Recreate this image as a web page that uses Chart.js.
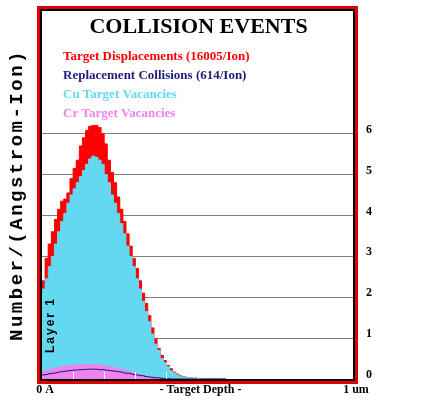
<!DOCTYPE html>
<html>
<head>
<meta charset="utf-8">
<script src="https://cdn.jsdelivr.net/npm/chart.js@4.4.0/dist/chart.umd.min.js"></script>
<style>
  html, body { margin: 0; padding: 0; background: #fff; }
  #wrap { width: 421px; height: 406px; }
</style>
</head>
<body>
<div id="wrap"><canvas id="chart" width="421" height="406"></canvas></div>
<script>
// 10 nm depth bins (bin start, nm); everything deeper than ~520 nm is empty
const depthNm = [
  0, 10, 20, 30, 40, 50, 60, 70, 80, 90,
  100, 110, 120, 130, 140, 150, 160, 170, 180, 190,
  200, 210, 220, 230, 240, 250, 260, 270, 280, 290,
  300, 310, 320, 330, 340, 350, 360, 370, 380, 390,
  400, 410, 420, 430, 440, 450, 460, 470, 480, 490,
  500, 510, 520, 530, 540, 550, 560, 570, 580, 590
];

const displacements = [
  2.40, 2.95, 3.30, 3.60, 3.90, 4.15, 4.35, 4.40, 4.55, 4.90,
  5.15, 5.35, 5.70, 5.90, 6.08, 6.18, 6.20, 6.20, 6.15, 6.00,
  5.75, 5.35, 5.05, 4.80, 4.45, 4.15, 3.85, 3.55, 3.25, 2.95,
  2.70, 2.40, 2.10, 1.85, 1.55, 1.25, 0.98, 0.75, 0.58, 0.45,
  0.33, 0.25, 0.17, 0.12, 0.08, 0.06, 0.04, 0.03, 0.02, 0.02,
  0.01, 0.01, 0, 0, 0, 0, 0, 0, 0, 0
];

const replacements = [
  0.10, 0.11, 0.13, 0.14, 0.15, 0.17, 0.18, 0.19, 0.20, 0.21,
  0.22, 0.22, 0.23, 0.23, 0.24, 0.24, 0.24, 0.24, 0.23, 0.23,
  0.22, 0.21, 0.20, 0.19, 0.18, 0.17, 0.15, 0.14, 0.13, 0.11,
  0.10, 0.09, 0.08, 0.06, 0.05, 0.04, 0.03, 0.03, 0.02, 0.01,
  0.01, 0, 0, 0, 0, 0, 0, 0, 0, 0,
  0, 0, 0, 0, 0, 0, 0, 0, 0, 0
];

const cuVacancies = [
  2.20, 2.45, 2.75, 3.00, 3.30, 3.60, 3.85, 4.05, 4.30, 4.50,
  4.65, 4.80, 4.95, 5.10, 5.25, 5.38, 5.45, 5.42, 5.35, 5.25,
  5.00, 4.80, 4.50, 4.30, 4.05, 3.80, 3.55, 3.25, 3.00, 2.75,
  2.45, 2.20, 1.90, 1.65, 1.40, 1.10, 0.85, 0.70, 0.50, 0.40,
  0.30, 0.20, 0.15, 0.10, 0.07, 0.05, 0.04, 0.03, 0.02, 0.02,
  0.01, 0.01, 0, 0, 0, 0, 0, 0, 0, 0
];

const crVacancies = [
  0.18, 0.20, 0.22, 0.24, 0.26, 0.28, 0.30, 0.31, 0.32, 0.33,
  0.34, 0.34, 0.35, 0.35, 0.35, 0.35, 0.35, 0.35, 0.34, 0.33,
  0.32, 0.31, 0.29, 0.27, 0.25, 0.23, 0.21, 0.19, 0.17, 0.15,
  0.13, 0.11, 0.09, 0.07, 0.06, 0.05, 0.04, 0.03, 0.02, 0.01,
  0.01, 0, 0, 0, 0, 0, 0, 0, 0, 0,
  0, 0, 0, 0, 0, 0, 0, 0, 0, 0
];

const seriesLabels = [
  'Target Displacements (16005/Ion)',
  'Replacement Collisions (614/Ion)',
  'Cu Target Vacancies',
  'Cr Target Vacancies'
];
const yTicks = [0, 1, 2, 3, 4, 5, 6];
const xTickLabels = { 0: '0 A', 500: '- Target Depth -', 1000: '1 um' };

const RED = '#ff0000';
const NAVY = '#1c1c78';
const CYAN = '#64d8f0';
const VIOLET = '#ee82ee';
const SERIF = "'Liberation Serif', 'Times New Roman', serif";

const pts = arr => depthNm.map((d, i) => ({ x: d, y: arr[i] }));

// frame, title, text legend, side labels and the little white depth ticks
const srimDecor = {
  id: 'srimDecor',
  afterDatasetsDraw(chart) {
    const { ctx, chartArea: a, scales } = chart;
    ctx.save();
    ctx.strokeStyle = '#fff';
    ctx.lineWidth = 1;
    scales.x.ticks.forEach(t => {
      if (t.value <= 0 || t.value >= 1000) return;
      const px = Math.round(scales.x.getPixelForValue(t.value)) + 0.5;
      ctx.beginPath();
      ctx.moveTo(px, a.bottom);
      ctx.lineTo(px, a.bottom - 7);
      ctx.stroke();
    });
    ctx.restore();
  },
  afterDraw(chart) {
    const { ctx, chartArea: a } = chart;
    const w = a.right - a.left, h = a.bottom - a.top;
    ctx.save();

    ctx.strokeStyle = '#000';
    ctx.lineWidth = 2;
    ctx.strokeRect(a.left - 1, a.top - 1, w + 2, h + 2);
    ctx.strokeStyle = '#e00000';
    ctx.lineWidth = 3;
    ctx.strokeRect(a.left - 3.5, a.top - 3.5, w + 7, h + 7);

    ctx.fillStyle = '#000';
    ctx.textAlign = 'center';
    ctx.textBaseline = 'alphabetic';
    ctx.font = 'bold 22px ' + SERIF;
    ctx.fillText('COLLISION EVENTS', (a.left + a.right) / 2 + 1, a.top + 22);

    ctx.textAlign = 'left';
    ctx.textBaseline = 'middle';
    ctx.font = 'bold 13px ' + SERIF;
    chart.data.datasets.forEach((ds, i) => {
      ctx.fillStyle = ds.legendColor;
      ctx.fillText(ds.label, a.left + 21, a.top + 46 + i * 19);
    });

    // layer name, inside the plot
    ctx.save();
    ctx.translate(a.left + 9, a.bottom - 54);
    ctx.rotate(-Math.PI / 2);
    ctx.font = "bold 12px 'Liberation Sans', Arial, sans-serif";
    ctx.letterSpacing = '2px';
    ctx.fillStyle = '#000';
    ctx.textAlign = 'center';
    ctx.fillText('Layer 1', 0, 0);
    ctx.restore();

    // y axis title on the left
    ctx.save();
    ctx.translate(17, 195);
    ctx.rotate(-Math.PI / 2);
    ctx.font = "bold 19px 'Liberation Mono', 'Courier New', monospace";
    ctx.letterSpacing = '2.5px';
    ctx.fillStyle = '#000';
    ctx.textAlign = 'center';
    ctx.fillText('Number/(Angstrom-Ion)', 0, 0);
    ctx.restore();

    ctx.restore();
  }
};

new Chart(document.getElementById('chart'), {
  type: 'line',
  data: {
    datasets: [{
      label: seriesLabels[0],
      data: pts(displacements),
      backgroundColor: RED,
      borderColor: RED,
      borderWidth: 1,
      fill: 'origin',
      order: 4,
      legendColor: RED
    }, {
      label: seriesLabels[1],
      data: pts(replacements),
      borderColor: NAVY,
      borderWidth: 1,
      fill: false,
      order: 1,
      legendColor: NAVY
    }, {
      label: seriesLabels[2],
      data: pts(cuVacancies),
      backgroundColor: CYAN,
      borderColor: CYAN,
      borderWidth: 1,
      fill: 'origin',
      order: 3,
      legendColor: CYAN
    }, {
      label: seriesLabels[3],
      data: pts(crVacancies),
      backgroundColor: VIOLET,
      borderColor: VIOLET,
      borderWidth: 1,
      fill: 'origin',
      order: 2,
      legendColor: VIOLET
    }]
  },
  options: {
    responsive: false,
    devicePixelRatio: 1,
    animation: false,
    layout: { padding: { left: 42, top: 11, right: 38, bottom: 0 } },
    elements: {
      point: { radius: 0 },
      line: { stepped: true, tension: 0 }
    },
    plugins: {
      legend: { display: false },
      tooltip: { enabled: false }
    },
    scales: {
      x: {
        type: 'linear',
        min: 0,
        max: 1000,
        grid: { display: false, drawTicks: false },
        border: { display: false },
        afterFit: s => { s.height = 27; s.paddingLeft = 0; s.paddingRight = 0; },
        ticks: {
          stepSize: 100,
          autoSkip: false,
          maxRotation: 0,
          padding: 4,
          labelOffset: 3,
          color: '#000',
          font: { family: SERIF, size: 12, weight: 'bold' },
          callback: v => xTickLabels[v] || ''
        }
      },
      y: {
        position: 'right',
        min: 0,
        max: 9,
        z: 1,
        border: { display: false },
        afterFit: s => { s.width = 30; s.paddingTop = 0; s.paddingBottom = 0; },
        grid: {
          drawTicks: false,
          lineWidth: 1,
          color: c => (c.tick.value >= 1 && c.tick.value <= 6) ? '#808080' : 'rgba(0,0,0,0)'
        },
        ticks: {
          stepSize: 1,
          padding: 13,
          labelOffset: -4,
          color: '#000',
          font: { family: SERIF, size: 12, weight: 'bold' },
          callback: v => yTicks.includes(v) ? v : ''
        }
      }
    }
  },
  plugins: [srimDecor]
});
</script>
</body>
</html>
